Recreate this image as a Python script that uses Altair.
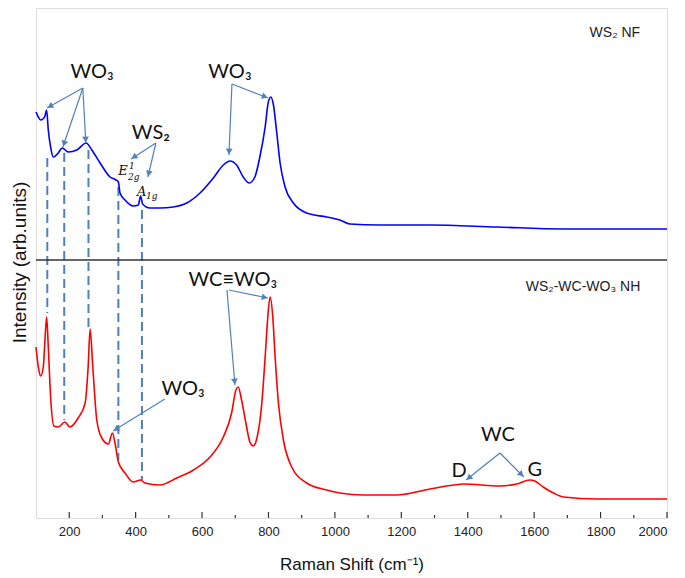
import altair as alt
import pandas as pd
import numpy as np

# ---------------- data ----------------
# top spectrum: WS2 NF (intensity in panel units, arbitrary)
top_shift = [100, 107, 114, 121, 127, 132, 137, 144, 152, 167, 179, 197, 223, 251, 268, 293, 323, 341, 348, 353,
             368, 393, 408, 415, 421, 443, 473, 513, 554, 594, 634, 664, 684, 704, 724, 742, 759, 774,
             790, 799, 807, 815, 825, 835, 850, 875, 915, 975, 1015, 1045, 1136, 1286, 1487, 1687, 1837, 2000]
top_int = [148, 143, 140, 141, 144, 150, 130, 113, 103, 107, 112, 108, 110, 117, 110, 97, 83, 80, 78, 67,
           60, 54, 55, 64, 56, 52, 52, 53, 57, 67, 82, 95, 99, 95, 83, 77, 83, 103,
           133, 157, 163, 155, 127, 97, 73, 57, 47, 43, 40, 36, 35, 35, 33, 31, 31, 31]

# bottom spectrum: WS2-WC-WO3 NH
bot_shift = [100, 107, 114, 122, 127, 132, 137, 144, 154, 167, 187, 202, 227, 248, 257, 263, 271, 283,
             298, 318, 330, 339, 348, 368, 393, 415, 428, 473, 524, 574, 624, 664, 689, 702, 709, 719,
             732, 744, 754, 766, 780, 790, 798, 805, 813, 820, 830, 845, 870, 915, 975, 1015, 1086,
             1186, 1286, 1357, 1387, 1497, 1547, 1587, 1602, 1627, 1658, 1688, 1788, 2000]
bot_int = [171, 151, 142, 151, 178, 201, 171, 121, 92, 91, 96, 91, 100, 115, 151, 189, 151, 98,
           80, 74, 85, 73, 56, 45, 36, 38, 35, 33, 40, 48, 61, 81, 105, 128, 131, 118,
           95, 76, 72, 81, 115, 161, 201, 221, 201, 161, 115, 78, 51, 35, 28, 25, 23,
           23, 29, 33, 34, 32, 34, 38, 37, 31, 25, 21, 19, 19]

panel_offset = 258  # top panel sits above the bottom one

# dashed guide lines
dash_shift = [134, 185, 258, 348, 419]
dash_top = [360, 365, 368, 331, 308]
dash_bottom = [205, 98, 188, 58, 38]

# annotation arrows (start -> end)
arrow_x0 = [241, 241, 241, 461, 461, 690, 690, 675, 681, 488, 1497, 1497]
arrow_y0 = [430, 430, 430, 375, 375, 434, 434, 228, 228, 119, 65, 65]
arrow_x1 = [133, 181, 250, 386, 437, 681, 799, 699, 799, 332, 1395, 1569]
arrow_y1 = [410, 371, 375, 359, 341, 363, 420, 133, 220, 87, 38, 41]

# annotation labels
ann_text = ["WO₃", "WS₂", "WO₃", "WC≡WO₃", "WO₃", "WC", "D", "G"]
ann_x = [269, 446, 684, 693, 543, 1491, 1374, 1602]
ann_y = [446, 385, 446, 238, 129, 83, 47, 48]

# Raman mode labels
mode_main = ["E", "A"]
mode_main_x = [362, 418]
mode_main_y = [347, 326]
mode_sub = ["1", "2g", "1g"]
mode_sub_x = [380, 377, 431]
mode_sub_y = [352, 341, 322]

# sample labels
sample_text = ["WS₂ NF", "WS₂-WC-WO₃ NH"]
sample_x = [1843, 1747]
sample_y = [485, 231]

major_ticks = list(range(200, 2001, 200))
minor_ticks = list(range(300, 2000, 200))

# ---------------- layout ----------------
W, H = 631, 510
XMIN, XMAX, YMIN, YMAX = 100, 2000, 0, 510
arrow_color = "#4f81bd"

xs = alt.Scale(domain=[XMIN, XMAX], nice=False, zero=False)
ys = alt.Scale(domain=[YMIN, YMAX], nice=False, zero=False)
xaxis = alt.Axis(title="Raman Shift (cm⁻¹)", values=major_ticks, format="d", tickSize=0, domain=False,
                 grid=False, labelFontSize=13, labelFont="Liberation Sans", labelColor="#222",
                 labelPadding=7, titleFont="Liberation Sans", titleFontSize=17, titleFontWeight="normal",
                 titleColor="#111", titlePadding=18)
yaxis = alt.Axis(title="Intensity (arb.units)", labels=False, ticks=False, tickSize=0, domain=False,
                 grid=False, titleFont="Liberation Sans", titleFontSize=19, titleFontWeight="normal",
                 titleColor="#111", titleAngle=270, titleX=-17, titleY=254, titleAlign="center",
                 titleBaseline="middle")


def X(f):
    return alt.X(f, type="quantitative", scale=xs, axis=xaxis)


def Y(f):
    return alt.Y(f, type="quantitative", scale=ys, axis=yaxis)


top_df = pd.DataFrame({"R": top_shift, "I": top_int})
bot_df = pd.DataFrame({"R": bot_shift, "Y": bot_int})

top_line = alt.Chart(top_df).transform_calculate(Y=f"datum.I + {panel_offset}").mark_line(
    color="#0000ff", strokeWidth=1.6, interpolate="monotone").encode(x=X("R"), y=Y("Y"))
bot_line = alt.Chart(bot_df).mark_line(color="#ff0000", strokeWidth=1.6, interpolate="monotone").encode(
    x=X("R"), y=Y("Y"))

divider = alt.Chart(pd.DataFrame({"Y": [panel_offset]})).mark_rule(color="#333", strokeWidth=1.5).encode(
    y=Y("Y"))

dash_df = pd.DataFrame({"R": dash_shift, "Y": dash_top, "Y2": dash_bottom})
dashes = alt.Chart(dash_df).mark_rule(color="#4f81bd", strokeWidth=2, strokeDash=[9, 5]).encode(
    x=X("R"), y=Y("Y"), y2="Y2")

arr_df = pd.DataFrame({"R": arrow_x0, "Y": arrow_y0, "R2": arrow_x1, "Y2": arrow_y1})
arrows = alt.Chart(arr_df).mark_rule(color=arrow_color, strokeWidth=1.2).encode(
    x=X("R"), y=Y("Y"), x2="R2", y2="Y2")

# arrow heads oriented along each arrow (computed in screen space)
px0 = (np.array(arrow_x0) - XMIN) / (XMAX - XMIN) * W
px1 = (np.array(arrow_x1) - XMIN) / (XMAX - XMIN) * W
py0 = (YMAX - np.array(arrow_y0)) / (YMAX - YMIN) * H
py1 = (YMAX - np.array(arrow_y1)) / (YMAX - YMIN) * H
dx, dy = px1 - px0, py1 - py0
L = np.hypot(dx, dy)
ang = (np.degrees(np.arctan2(dx, -dy)) + 360) % 360
back = 3.5
hx = np.array(arrow_x1) - dx / L * back * (XMAX - XMIN) / W
hy = np.array(arrow_y1) + dy / L * back * (YMAX - YMIN) / H
head_df = pd.DataFrame({"R": hx, "Y": hy, "ang": ang})
heads = alt.Chart(head_df).mark_point(shape="triangle-up", filled=True, size=45, opacity=1,
                                      color=arrow_color).encode(
    x=X("R"), y=Y("Y"), angle=alt.Angle("ang:Q", scale=None))

ann_df = pd.DataFrame({"R": ann_x, "Y": ann_y, "t": ann_text})
ann = alt.Chart(ann_df).mark_text(font="Lato", fontSize=20, color="#111", align="center",
                                  baseline="middle").encode(x=X("R"), y=Y("Y"), text="t")

mm_df = pd.DataFrame({"R": mode_main_x, "Y": mode_main_y, "t": mode_main})
mm = alt.Chart(mm_df).mark_text(font="DejaVu Serif", fontStyle="italic", fontSize=13, color="#111",
                                align="center", baseline="middle").encode(x=X("R"), y=Y("Y"), text="t")
ms_df = pd.DataFrame({"R": mode_sub_x, "Y": mode_sub_y, "t": mode_sub})
ms = alt.Chart(ms_df).mark_text(font="DejaVu Serif", fontStyle="italic", fontSize=9, color="#111",
                                align="left", baseline="middle").encode(x=X("R"), y=Y("Y"), text="t")

smp_df = pd.DataFrame({"R": sample_x, "Y": sample_y, "t": sample_text})
smp = alt.Chart(smp_df).mark_text(font="Liberation Sans", fontSize=14, color="#222", align="center",
                                  baseline="middle").encode(x=X("R"), y=Y("Y"), text="t")

maj_df = pd.DataFrame({"R": major_ticks})
min_df = pd.DataFrame({"R": minor_ticks})
maj = alt.Chart(maj_df).mark_rule(color="#333", strokeWidth=1.2).encode(
    x=X("R"), y=alt.value(H), y2=alt.value(H - 6))
mnr = alt.Chart(min_df).mark_rule(color="#333", strokeWidth=1.2).encode(
    x=X("R"), y=alt.value(H), y2=alt.value(H - 3))

chart = alt.layer(dashes, top_line, bot_line, divider, arrows, heads, ann, mm, ms, smp, maj, mnr).properties(
    width=W, height=H,
    autosize=alt.AutoSizeParams(type="none"),
    padding={"left": 28, "top": 0, "right": 10, "bottom": 62},
).configure_view(stroke="#333", strokeWidth=1.5).configure(background="white")

chart.save("out.html", embed_options={"renderer": "svg", "actions": False})
